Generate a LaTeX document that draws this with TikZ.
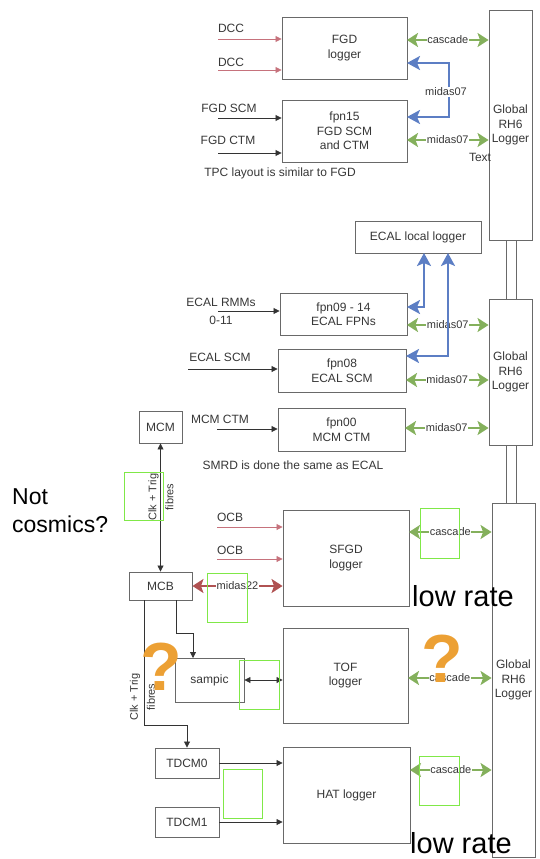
\documentclass[tikz,border=0pt]{standalone}
\usepackage{fontspec}
\setmainfont{Liberation Sans}
\usetikzlibrary{arrows.meta}

\definecolor{boxgray}{RGB}{105,105,105}
\definecolor{txtgray}{RGB}{55,55,55}
\definecolor{linkgreen}{RGB}{132,176,92}
\definecolor{linkblue}{RGB}{92,126,196}
\definecolor{inred}{RGB}{198,114,124}
\definecolor{midred}{RGB}{176,82,82}
\definecolor{hilite}{RGB}{128,232,72}
\definecolor{qorange}{RGB}{236,160,52}

\tikzset{
  box/.style={draw=boxgray, line width=0.9pt, fill=white, text=txtgray, align=center,
    inner sep=0pt, font=\fontsize{12}{14.5}\selectfont},
  feed/.style={draw=black!80, line width=0.8pt, -{Triangle[length=6pt,width=6pt]}},
  twofeed/.style={draw=black!80, line width=0.8pt, {Triangle[length=6pt,width=6pt]}-{Triangle[length=6pt,width=6pt]}},
  redfeed/.style={draw=inred, line width=0.8pt, -{Triangle[length=6pt,width=6pt]}},
  greenlink/.style={draw=linkgreen, line width=2pt,
    {Stealth[length=11pt,width=14pt,inset=2.5pt]}-{Stealth[length=11pt,width=14pt,inset=2.5pt]}},
  bluelink/.style={draw=linkblue, line width=2.2pt,
    {Stealth[length=13pt,width=14pt,inset=3pt]}-{Stealth[length=13pt,width=14pt,inset=3pt]}},
  redlink/.style={draw=midred, line width=2pt,
    {Stealth[length=11pt,width=14pt,inset=2.5pt]}-{Stealth[length=11pt,width=14pt,inset=2.5pt]}},
  lbl/.style={text=txtgray, inner sep=0pt, font=\fontsize{12}{16}\selectfont},
  tag/.style={fill=white, text=txtgray, inner sep=0.5pt, font=\fontsize{11}{13}\selectfont},
  fibre/.style={text=txtgray, inner sep=0pt, rotate=90, align=center, font=\fontsize{11}{17}\selectfont},
  hl/.style={draw=hilite, line width=1pt},
  qmark/.style={text=qorange, inner sep=0pt, font=\fontsize{68}{68}\selectfont\bfseries},
  big/.style={text=black, inner sep=0pt}
}

\begin{document}
\begin{tikzpicture}[x=1pt, y=-1pt]
\useasboundingbox (0,0) rectangle (539,859);

% links between the global loggers
\draw[boxgray, line width=0.8pt, fill=white] (506,235) rectangle (516,304);
\draw[boxgray, line width=0.8pt, fill=white] (506,440) rectangle (516,508);

% global loggers
\node[box, minimum width=43pt, minimum height=230pt] (glob1) at (510.5,125) {Global\\RH6\\Logger};
\node[box, minimum width=43pt, minimum height=146pt] (glob2) at (510.5,372) {Global\\RH6\\Logger};
\node[box, minimum width=43pt, minimum height=354pt] (glob3) at (513.5,680) {Global\\RH6\\Logger};

% FGD
\node[box, minimum width=125pt, minimum height=62pt] (fgd) at (344.5,48) {FGD\\logger};
\node[box, minimum width=125pt, minimum height=62pt] (fpn15) at (344.5,131) {fpn15\\FGD SCM\\and CTM};

\node[lbl] (dcct1) at (231,28) {DCC};
\node[lbl] (dcct2) at (231,62) {DCC};
\coordinate (dcc1) at (218,39);
\coordinate (dcc2) at (218,70);
\draw[redfeed] (dcc1) -- (dcc1 -| fgd.west);
\draw[redfeed] (dcc2) -- (dcc2 -| fgd.west);

\node[lbl] (scmt) at (229,108) {FGD SCM};
\node[lbl] (ctmt) at (228,140) {FGD CTM};
\coordinate (scmin) at (218,118);
\coordinate (ctmin) at (218,153);
\draw[feed] (scmin) -- (scmin -| fpn15.west);
\draw[feed] (ctmin) -- (ctmin -| fpn15.west);
\node[lbl] (tpct) at (280,173) {TPC layout is similar to FGD};

\coordinate (fgdc) at (407,40);
\draw[greenlink] (fgdc) -- (fgdc -| glob1.west) node[tag, midway] (cas1) {cascade};
\coordinate (fpnb) at (407,117);
\coordinate (bturn) at (449,63);
\coordinate (fgdb) at (407,63);
\draw[bluelink] (fpnb) -| (bturn) -- (fgdb);
\node[tag] (mid1) at (446,92) {midas07};
\coordinate (fpnc) at (407,140);
\draw[greenlink] (fpnc) -- (fpnc -| glob1.west) node[tag, midway] (mid2) {midas07};
\node[lbl] (textt) at (480,157) {Text};

% ECAL
\node[box, minimum width=126pt, minimum height=32pt] (ecallocal) at (418,237) {ECAL local logger};
\node[box, minimum width=127pt, minimum height=42pt] (fpn0914) at (343.5,314) {fpn09 - 14\\ECAL FPNs};
\node[box, minimum width=128pt, minimum height=43pt] (fpn08) at (342,370.5) {fpn08\\ECAL SCM};
\node[box, minimum width=127pt, minimum height=43pt] (fpn00) at (341.5,429.5) {fpn00\\MCM CTM};

\node[lbl, align=center, font=\fontsize{12}{18}\selectfont] (rmmt) at (221,311) {ECAL RMMs\\0-11};
\node[lbl] (escmt) at (220,357) {ECAL SCM};
\node[lbl] (mctmt) at (220,419) {MCM CTM};
\coordinate (rmmin) at (218,311);
\coordinate (escmin) at (188,369);
\coordinate (mctmin) at (217,429);
\draw[feed] (rmmin) -- (rmmin -| fpn0914.west);
\draw[feed] (escmin) -- (escmin -| fpn08.west);
\draw[feed] (mctmin) -- (mctmin -| fpn00.west);
\node[lbl] (smrdt) at (293,465) {SMRD is done the same as ECAL};

\coordinate (f09c) at (407,325);
\coordinate (f08c) at (406,380);
\coordinate (f00c) at (405,428);
\draw[greenlink] (f09c) -- (f09c -| glob2.west) node[tag, midway] (mid3) {midas07};
\draw[greenlink] (f08c) -- (f08c -| glob2.west) node[tag, midway] (mid4) {midas07};
\draw[greenlink] (f00c) -- (f00c -| glob2.west) node[tag, midway] (mid5) {midas07};
\coordinate (f09b) at (407,307);
\coordinate (f08b) at (406,356);
\coordinate (eb1) at (424,253);
\coordinate (eb2) at (448,253);
\draw[bluelink] (f09b) -| (eb1);
\draw[bluelink] (f08b) -| (eb2);

% MCM / MCB
\node[box, minimum width=43pt, minimum height=32pt] (mcm) at (160.5,427) {MCM};
\node[box, minimum width=63pt, minimum height=28pt] (mcb) at (160.5,586) {MCB};
\draw[twofeed] (mcm.south) -- (mcb.north);
\node[fibre] (clk1) at (161,497) {Clk + Trig\\fibres};
\node[big, align=left, anchor=west, font=\fontsize{23}{28}\selectfont] (notcos) at (12,511) {Not\\cosmics?};

% SFGD
\node[box, minimum width=126pt, minimum height=96pt] (sfgd) at (346,558) {SFGD\\logger};
\node[lbl] (ocbt1) at (230,517) {OCB};
\node[lbl] (ocbt2) at (230,550) {OCB};
\coordinate (ocb1) at (217,527);
\coordinate (ocb2) at (217,559);
\draw[redfeed] (ocb1) -- (ocb1 -| sfgd.west);
\draw[redfeed] (ocb2) -- (ocb2 -| sfgd.west);
\draw[redlink] (mcb.east) -- (mcb.east -| sfgd.west) node[tag, midway] (mid22) {midas22};
\coordinate (sfgdc) at (409,532);
\draw[greenlink] (sfgdc) -- (sfgdc -| glob3.west) node[tag, midway] (cas2) {cascade};

% TOF
\node[box, minimum width=125pt, minimum height=95pt] (tof) at (345.5,675.5) {TOF\\logger};
\node[box, minimum width=69pt, minimum height=44pt] (sampic) at (209.5,680) {sampic};
\coordinate (mcbs1) at (176,600);
\coordinate (samtop) at (193,658);
\draw[feed] (mcbs1) -- ++(0,33) -| (samtop);
\draw[twofeed] (sampic.east) -- (sampic.east -| tof.west);
\coordinate (tofc) at (408,678);
\draw[greenlink] (tofc) -- (tofc -| glob3.west) node[tag, midway] (cas3) {cascade};

% HAT
\node[box, minimum width=64pt, minimum height=30pt] (tdcm0) at (187,763) {TDCM0};
\node[box, minimum width=64pt, minimum height=30pt] (tdcm1) at (187,822) {TDCM1};
\node[box, minimum width=127pt, minimum height=96pt] (hat) at (346.5,795) {HAT logger};
\coordinate (mcbs2) at (144,600);
\draw[feed] (mcbs2) -- ++(0,125) -| (tdcm0.north);
\node[fibre] (clk2) at (142.5,697) {Clk + Trig\\fibres};
\draw[feed] (tdcm0.east) -- (tdcm0.east -| hat.west);
\draw[feed] (tdcm1.east) -- (tdcm1.east -| hat.west);
\coordinate (hatc) at (410,770);
\draw[greenlink] (hatc) -- (hatc -| glob3.west) node[tag, midway] (cas4) {cascade};

% highlights
\draw[hl] (124,472) rectangle (163,520);
\draw[hl] (207,573) rectangle (247,622);
\draw[hl] (420,508) rectangle (459,558);
\draw[hl] (239,660) rectangle (279,709);
\draw[hl] (223,769) rectangle (262,818);
\draw[hl] (419,756) rectangle (459,805);

% notes
\node[qmark] (q1) at (442,659) {?};
\node[qmark] (q2) at (161,667) {?};
\node[big, anchor=base west, font=\fontsize{29}{32}\selectfont] (low1) at (412,606) {low rate};
\node[big, anchor=base west, font=\fontsize{29}{32}\selectfont] (low2) at (410,853) {low rate};
\end{tikzpicture}
\end{document}
